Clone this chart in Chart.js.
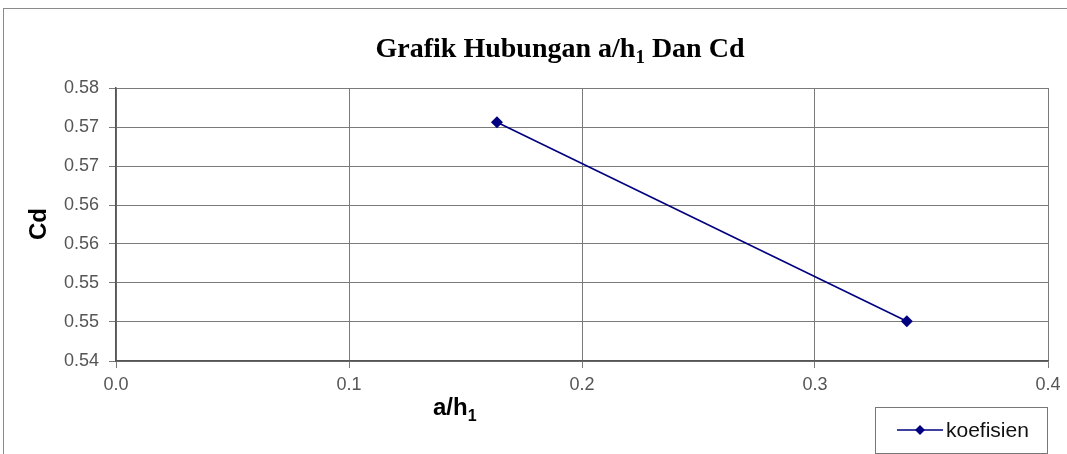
<!DOCTYPE html>
<html>
<head>
<meta charset="utf-8">
<script src="https://cdn.jsdelivr.net/npm/chart.js@4/dist/chart.umd.min.js"></script>
<style>
html,body{margin:0;padding:0;background:#fff;}
#wrap{width:1067px;height:454px;position:relative;}
</style>
</head>
<body>
<div id="wrap"><canvas id="c" width="1067" height="454"></canvas></div>
<script>
// ---- data ----
const seriesName = 'koefisien';
const xValues = [0.1635, 0.3394];
const yValues = [0.5706, 0.5451];
const xTickLabels = ['0.0', '0.1', '0.2', '0.3', '0.4'];
const yTickLabels = ['0.54', '0.55', '0.55', '0.56', '0.56', '0.57', '0.57', '0.58'];
const titleMain = 'Grafik Hubungan a/h';
const titleSub = '1';
const titleEnd = ' Dan Cd';
const xTitleMain = 'a/h';
const xTitleSub = '1';
const yTitle = 'Cd';

const points = xValues.map((x, i) => ({x: x, y: yValues[i]}));
const lineColor = '#000080';

const decor = {
  id: 'decor',
  beforeDraw(chart) {
    const ctx = chart.ctx;
    ctx.save();
    ctx.fillStyle = '#fff';
    ctx.fillRect(0, 0, chart.width, chart.height);
    ctx.strokeStyle = '#8a8a8a';
    ctx.lineWidth = 1;
    ctx.strokeRect(3.5, 8.5, 1100, 500);
    ctx.restore();
  },
  afterDraw(chart) {
    const ctx = chart.ctx;
    ctx.save();
    // Title
    ctx.fillStyle = '#000';
    ctx.textBaseline = 'alphabetic';
    ctx.textAlign = 'left';
    const tf = 'bold 28px "Liberation Serif", "Times New Roman", serif';
    const sf = 'bold 19px "Liberation Serif", "Times New Roman", serif';
    ctx.font = tf;
    const w1 = ctx.measureText(titleMain).width;
    const w3 = ctx.measureText(titleEnd).width;
    ctx.font = sf;
    const w2 = ctx.measureText(titleSub).width;
    const total = w1 + w2 + w3;
    let tx = 560 - total / 2;
    const ty = 57;
    ctx.font = tf;
    ctx.fillText(titleMain, tx, ty);
    ctx.font = sf;
    ctx.fillText(titleSub, tx + w1, ty + 6);
    ctx.font = tf;
    ctx.fillText(titleEnd, tx + w1 + w2, ty);

    // X axis title
    const af = 'bold 24px "Liberation Sans", Arial, sans-serif';
    const asf = 'bold 16px "Liberation Sans", Arial, sans-serif';
    ctx.font = af;
    const xw1 = ctx.measureText(xTitleMain).width;
    ctx.fillText(xTitleMain, 433, 415);
    ctx.font = asf;
    ctx.fillText(xTitleSub, 433 + xw1, 421);

    // Y axis title
    ctx.save();
    ctx.translate(46, 224);
    ctx.rotate(-Math.PI / 2);
    ctx.font = af;
    ctx.textAlign = 'center';
    ctx.textBaseline = 'alphabetic';
    ctx.fillText(yTitle, 0, 0);
    ctx.restore();

    // Legend
    ctx.strokeStyle = '#777';
    ctx.lineWidth = 1;
    ctx.strokeRect(875.5, 407.5, 172, 46);
    const ds = chart.data.datasets[0];
    ctx.strokeStyle = ds.borderColor;
    ctx.lineWidth = 1.5;
    ctx.beginPath();
    ctx.moveTo(897, 430);
    ctx.lineTo(943, 430);
    ctx.stroke();
    ctx.fillStyle = ds.pointBackgroundColor;
    ctx.beginPath();
    ctx.moveTo(920, 425);
    ctx.lineTo(925, 430);
    ctx.lineTo(920, 435);
    ctx.lineTo(915, 430);
    ctx.closePath();
    ctx.fill();
    ctx.fillStyle = '#111';
    ctx.font = '21px "Liberation Sans", Arial, sans-serif';
    ctx.textBaseline = 'middle';
    ctx.fillText(ds.label, 946, 431);
    ctx.restore();
  }
};

new Chart(document.getElementById('c'), {
  type: 'scatter',
  data: {
    datasets: [{
      label: seriesName,
      data: points,
      showLine: true,
      borderColor: lineColor,
      backgroundColor: lineColor,
      pointBackgroundColor: lineColor,
      pointBorderColor: lineColor,
      borderWidth: 1.6,
      pointStyle: 'rectRot',
      pointRadius: 6,
      pointBorderWidth: 0
    }]
  },
  options: {
    responsive: false,
    animation: false,
    layout: {padding: {left: 0, top: 88, right: 19, bottom: 0}},
    plugins: {legend: {display: false}, title: {display: false}, tooltip: {enabled: false}},
    scales: {
      x: {
        type: 'linear',
        min: 0, max: 0.4,
        afterFit: s => { s.height = 93; },
        ticks: {
          stepSize: 0.1,
          autoSkip: false,
          maxRotation: 0,
          padding: 6,
          color: '#555',
          font: {family: '"Liberation Sans", Arial, sans-serif', size: 18},
          callback: (v, i) => xTickLabels[i]
        },
        grid: {color: '#7a7a7a', lineWidth: 1, tickLength: 7, drawTicks: true},
        border: {color: '#555', width: 1.5}
      },
      y: {
        type: 'linear',
        min: 0.54, max: 0.575,
        afterFit: s => { s.width = 116; },
        ticks: {
          stepSize: 0.005,
          autoSkip: false,
          padding: 10,
          color: '#555',
          font: {family: '"Liberation Sans", Arial, sans-serif', size: 18},
          callback: (v, i) => yTickLabels[i]
        },
        grid: {color: '#7a7a7a', lineWidth: 1, tickLength: 7, drawTicks: true},
        border: {color: '#555', width: 1.5}
      }
    }
  },
  plugins: [decor]
});
</script>
</body>
</html>
